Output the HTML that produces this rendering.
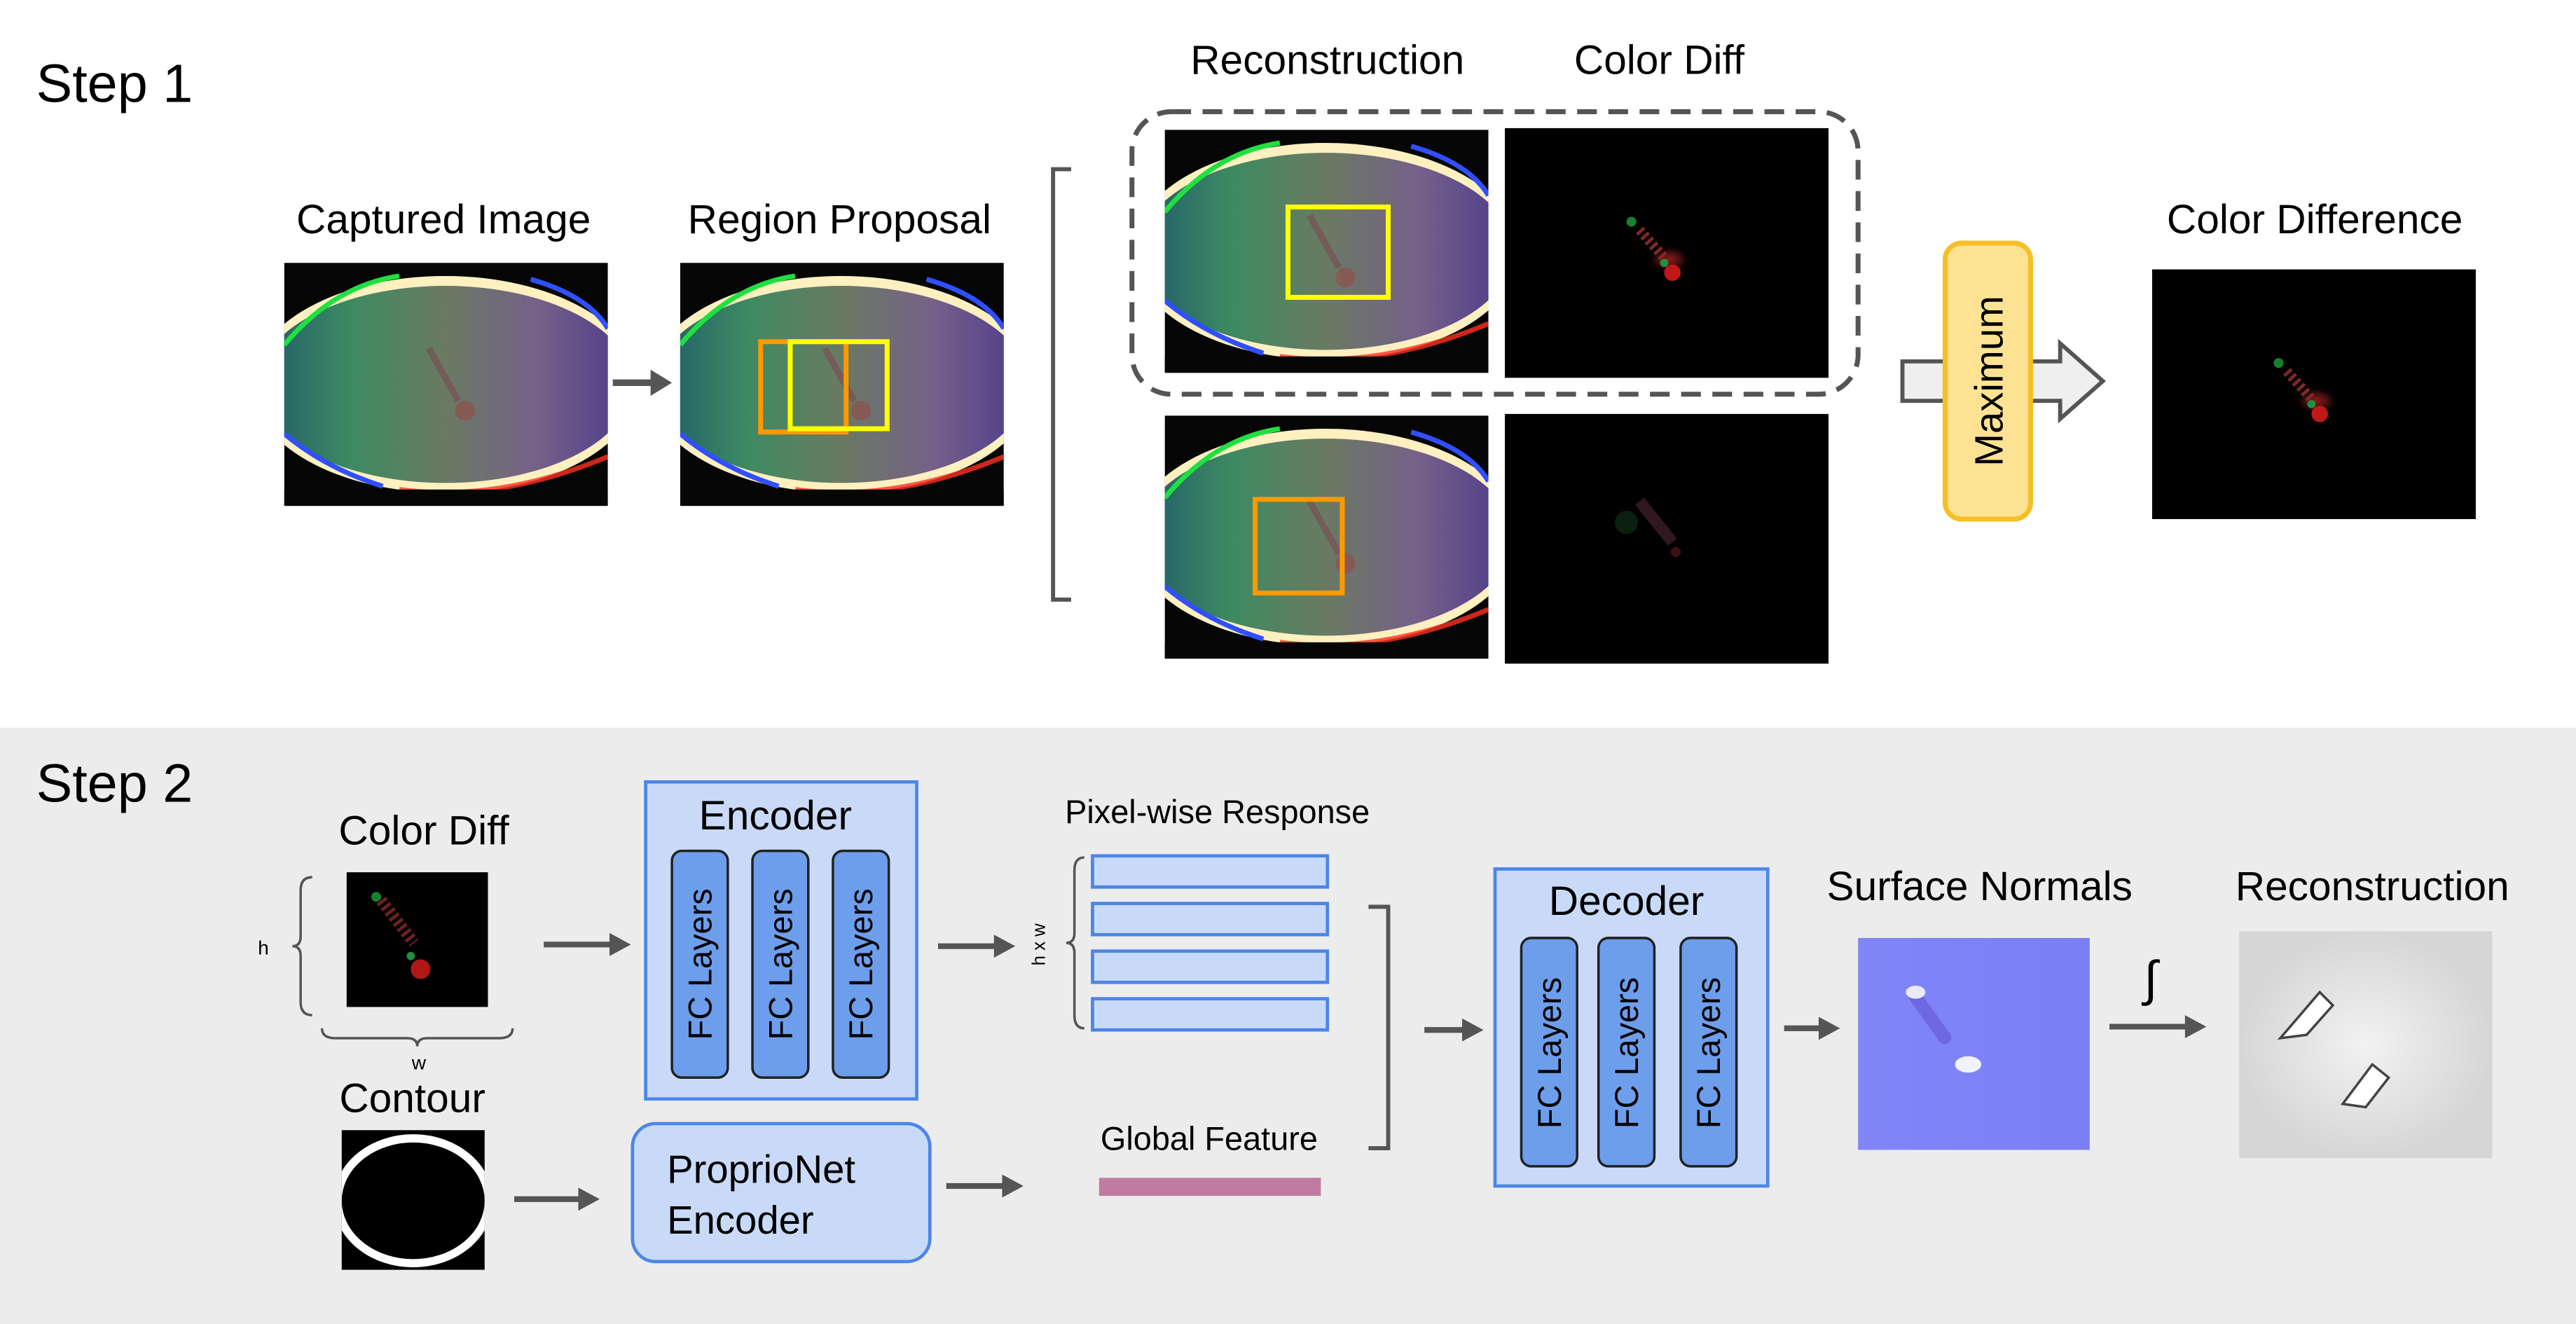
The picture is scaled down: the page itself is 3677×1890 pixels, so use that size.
<!DOCTYPE html>
<html><head><meta charset="utf-8"><style>html,body{margin:0;padding:0;background:#fff}svg{display:block}text{font-family:"Liberation Sans",sans-serif;fill:#000}</style></head>
<body>
<svg width="3677" height="1890" viewBox="0 0 1568 806" preserveAspectRatio="none" xmlns="http://www.w3.org/2000/svg">
<defs>
<linearGradient id="gp" x1="0" x2="1" y1="0" y2="0">
<stop offset="0" stop-color="#1f5a6a"/><stop offset="0.25" stop-color="#3e8a62"/><stop offset="0.5" stop-color="#6a7a62"/><stop offset="0.75" stop-color="#76608a"/><stop offset="1" stop-color="#4a3a8a"/></linearGradient>
<radialGradient id="cd"><stop offset="0" stop-color="#901818"/><stop offset="0.5" stop-color="#401010"/><stop offset="1" stop-color="#000" stop-opacity="0"/></radialGradient>
<linearGradient id="sn" x1="0" x2="1"><stop offset="0" stop-color="#8086f8"/><stop offset="1" stop-color="#7a80f4"/></linearGradient>
<radialGradient id="rc"><stop offset="0" stop-color="#f2f2f2"/><stop offset="1" stop-color="#d6d6d6"/></radialGradient>
<clipPath id="cl"><rect x="0" y="0" width="197" height="148"/></clipPath>
<clipPath id="cl2"><rect x="0" y="0" width="87" height="85"/></clipPath>
<g id="tac">
<g clip-path="url(#cl)">
<rect x="0" y="0" width="197" height="148" fill="#060606"/>
<ellipse cx="98" cy="74" rx="118" ry="66" fill="#fff0c0"/>
<ellipse cx="98" cy="74" rx="114" ry="60" fill="url(#gp)"/>
<path d="M0,50 Q30,14 70,8" stroke="#20e040" stroke-width="3" fill="none"/>
<path d="M150,10 Q185,20 197,40" stroke="#3050ff" stroke-width="3" fill="none"/>
<path d="M0,104 Q25,125 60,136" stroke="#3050ff" stroke-width="3" fill="none"/>
<path d="M70,138 Q130,146 197,118" stroke="#ff3020" stroke-width="3" fill="none" opacity="0.8"/>
<rect x="0" y="138" width="197" height="10" fill="#060606"/>
<path d="M88,52 L106,84" stroke="#804050" stroke-width="4" opacity="0.5"/>
<circle cx="110" cy="90" r="6" fill="#a04040" opacity="0.5"/>
</g>
</g>
<g id="cdimg">
<rect width="197" height="152" fill="#000"/>
<ellipse cx="100" cy="80" rx="14" ry="9" fill="url(#cd)"/>
<path d="M82,62 L98,80" stroke="#802828" stroke-width="6" stroke-dasharray="2 2"/>
<circle cx="77" cy="57" r="3" fill="#188030"/>
<circle cx="102" cy="88" r="5" fill="#c01818"/>
<circle cx="97" cy="82" r="2.5" fill="#209040"/>
</g>
</defs>

<rect x="0" y="443" width="1568" height="363" fill="#ececec"/>

<text x="22" y="62" font-size="33">Step 1</text>
<text x="22" y="488" font-size="33">Step 2</text>

<!-- Step 1 -->
<text x="270" y="142" font-size="25" text-anchor="middle">Captured Image</text>
<use href="#tac" x="173" y="160"/>
<path d="M373,233 H398" stroke="#555" stroke-width="4"/><path d="M396,225 L409,233 L396,241Z" fill="#555"/>
<text x="511" y="142" font-size="25" text-anchor="middle">Region Proposal</text>
<use href="#tac" x="414" y="160"/>
<rect x="463" y="208" width="52" height="55" fill="none" stroke="#ff9900" stroke-width="3"/>
<rect x="481" y="208" width="59" height="53" fill="none" stroke="#ffff00" stroke-width="3"/>

<path d="M652,103 H641 V365 H652" stroke="#555" stroke-width="2.5" fill="none"/>
<text x="808" y="45" font-size="25" text-anchor="middle">Reconstruction</text>
<text x="1010" y="45" font-size="25" text-anchor="middle">Color Diff</text>
<rect x="689" y="68" width="442" height="172" rx="24" fill="none" stroke="#555" stroke-width="3" stroke-dasharray="12 7"/>
<use href="#tac" x="709" y="79"/>
<rect x="784" y="126" width="61" height="55" fill="none" stroke="#ffff00" stroke-width="3"/>
<use href="#cdimg" x="916" y="78"/>
<use href="#tac" x="709" y="253"/>
<rect x="764" y="304" width="53" height="57" fill="none" stroke="#ff9900" stroke-width="3"/>
<rect x="916" y="252" width="197" height="152" fill="#000"/>
<path d="M998,305 L1018,330" stroke="#301820" stroke-width="7"/>
<circle cx="1020" cy="336" r="3" fill="#401010"/>
<circle cx="990" cy="318" r="7" fill="#0c200f"/>

<path d="M1158,220 H1254 V209 L1280,232 L1254,255 V244 H1158Z" fill="#efefef" stroke="#555" stroke-width="2.5"/>
<rect x="1184" y="148" width="52" height="168" rx="10" fill="#fde293" stroke="#f6bf26" stroke-width="3"/>
<text transform="translate(1219,232) rotate(-90)" font-size="24" text-anchor="middle">Maximum</text>
<text x="1409" y="142" font-size="25" text-anchor="middle">Color Difference</text>
<use href="#cdimg" x="1310" y="164"/>

<!-- Step 2 -->
<text x="258" y="514" font-size="25" text-anchor="middle">Color Diff</text>
<rect x="211" y="531" width="86" height="82" fill="#000"/>
<path d="M232,548 L252,574" stroke="#702020" stroke-width="7" stroke-dasharray="2 2"/>
<circle cx="229" cy="546" r="3" fill="#188030"/>
<circle cx="256" cy="590" r="6" fill="#b01818"/>
<circle cx="250" cy="582" r="2.5" fill="#209040"/>
<path d="M190,534 Q183,534 183,542 V570 Q183,576 178,576 Q183,576 183,582 V610 Q183,618 190,618" stroke="#555" stroke-width="1.5" fill="none"/>
<text x="157" y="581" font-size="12">h</text>
<path d="M196,626 Q196,632 204,632 H248 Q254,632 254,637 Q254,632 260,632 H304 Q312,632 312,626" stroke="#555" stroke-width="1.5" fill="none"/>
<text x="255" y="651" font-size="12" text-anchor="middle">w</text>
<text x="251" y="677" font-size="25" text-anchor="middle">Contour</text>
<g transform="translate(208,688)">
<rect width="87" height="85" fill="#000"/>
<g clip-path="url(#cl2)"><ellipse cx="43.5" cy="43" rx="46" ry="38" fill="none" stroke="#fff" stroke-width="5"/></g>
</g>

<path d="M331,575 H373" stroke="#555" stroke-width="3.5"/><path d="M371,568 L384,575 L371,582Z" fill="#555"/>
<rect x="393" y="476" width="165" height="193" fill="#c9daf8" stroke="#4a86e8" stroke-width="2"/>
<text x="472" y="505" font-size="25" text-anchor="middle">Encoder</text>
<rect x="910" y="529" width="166" height="193" fill="#c9daf8" stroke="#4a86e8" stroke-width="2"/>
<text x="990" y="557" font-size="25" text-anchor="middle">Decoder</text>
<g fill="#6d9eeb" stroke="#222" stroke-width="1.5">
<rect x="409" y="518" width="34" height="138" rx="6"/><rect x="458" y="518" width="34" height="138" rx="6"/><rect x="507" y="518" width="34" height="138" rx="6"/>
<rect x="926" y="571" width="34" height="139" rx="6"/><rect x="973" y="571" width="34" height="139" rx="6"/><rect x="1023" y="571" width="34" height="139" rx="6"/></g>
<g font-size="20" text-anchor="middle">
<text transform="translate(433,587) rotate(-90)">FC Layers</text>
<text transform="translate(482,587) rotate(-90)">FC Layers</text>
<text transform="translate(531,587) rotate(-90)">FC Layers</text>
<text transform="translate(950,641) rotate(-90)">FC Layers</text>
<text transform="translate(997,641) rotate(-90)">FC Layers</text>
<text transform="translate(1047,641) rotate(-90)">FC Layers</text>
</g>
<path d="M313,730 H354" stroke="#555" stroke-width="3.5"/><path d="M352,723 L365,730 L352,737Z" fill="#555"/>
<rect x="385" y="684" width="181" height="84" rx="14" fill="#c9daf8" stroke="#4a86e8" stroke-width="2"/>
<text x="406" y="720" font-size="24">ProprioNet</text>
<text x="406" y="751" font-size="24">Encoder</text>
<path d="M576,722 H612" stroke="#555" stroke-width="3.5"/><path d="M610,715 L623,722 L610,729Z" fill="#555"/>
<path d="M571,576 H607" stroke="#555" stroke-width="3.5"/><path d="M605,569 L618,576 L605,583Z" fill="#555"/>

<text x="741" y="501" font-size="20" text-anchor="middle">Pixel-wise Response</text>
<path d="M660,522 Q654,522 654,530 V568 Q654,574 649,574 Q654,574 654,580 V618 Q654,626 660,626" stroke="#555" stroke-width="1.5" fill="none"/>
<text transform="translate(636,575) rotate(-90)" font-size="11" text-anchor="middle">h x w</text>
<g fill="#c9daf8" stroke="#4a86e8" stroke-width="2">
<rect x="665" y="521" width="143" height="19"/><rect x="665" y="550" width="143" height="19"/><rect x="665" y="579" width="143" height="19"/><rect x="665" y="608" width="143" height="19"/></g>
<text x="736" y="700" font-size="20" text-anchor="middle">Global Feature</text>
<rect x="669" y="717" width="135" height="11" fill="#c27ba0"/>
<path d="M833,552 H845 V699 H833" stroke="#555" stroke-width="2.5" fill="none"/>
<path d="M867,627 H892" stroke="#555" stroke-width="3.5"/><path d="M890,620 L903,627 L890,634Z" fill="#555"/>

<path d="M1086,626 H1109" stroke="#555" stroke-width="3.5"/><path d="M1107,619 L1120,626 L1107,633Z" fill="#555"/>

<text x="1205" y="548" font-size="25" text-anchor="middle">Surface Normals</text>
<rect x="1131" y="571" width="141" height="129" fill="url(#sn)"/>
<path d="M1164,604 L1184,632" stroke="#7068e0" stroke-width="8" stroke-linecap="round" stroke-dasharray="2 2"/>
<ellipse cx="1166" cy="604" rx="6" ry="4" fill="#e8eaff"/>
<ellipse cx="1198" cy="648" rx="8" ry="5" fill="#f0f2ff"/>
<text x="1305" y="606" font-size="30" font-family="DejaVu Serif, serif">∫</text>
<path d="M1284,625 H1332" stroke="#555" stroke-width="3.5"/><path d="M1330,618 L1343,625 L1330,632Z" fill="#555"/>

<text x="1444" y="548" font-size="25" text-anchor="middle">Reconstruction</text>
<rect x="1363" y="567" width="154" height="138" fill="url(#rc)"/>
<path d="M1388,632 L1412,604 L1420,612 L1404,630Z" fill="#fff" stroke="#444" stroke-width="1.5"/>
<path d="M1426,672 L1444,648 L1454,656 L1440,674Z" fill="#fff" stroke="#444" stroke-width="1.5"/>
</svg>
</body></html>
